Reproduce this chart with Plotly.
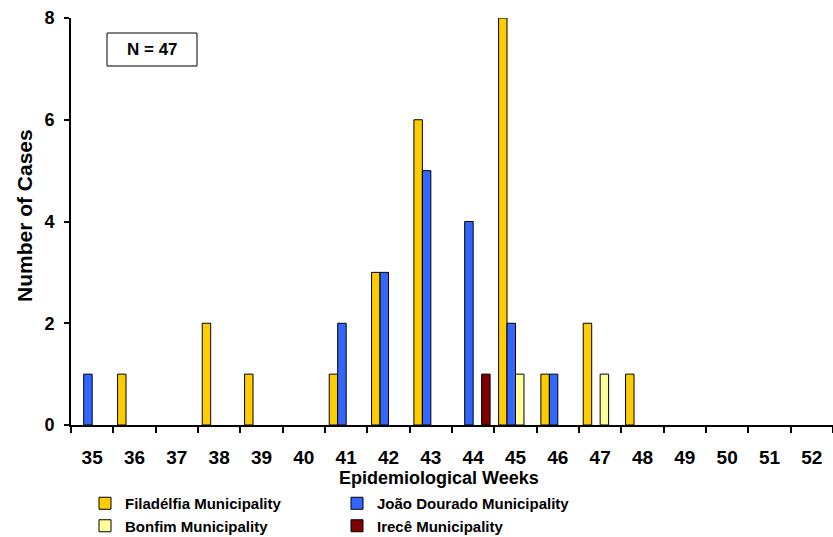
import plotly.graph_objects as go

weeks = [str(w) for w in range(35, 53)]
filadelfia = [0, 1, 0, 2, 1, 0, 1, 3, 6, 0, 8, 1, 2, 1, 0, 0, 0, 0]
joao_dourado = [1, 0, 0, 0, 0, 0, 2, 3, 5, 4, 2, 1, 0, 0, 0, 0, 0, 0]
bonfim = [0, 0, 0, 0, 0, 0, 0, 0, 0, 0, 1, 0, 1, 0, 0, 0, 0, 0]
irece = [0, 0, 0, 0, 0, 0, 0, 0, 0, 1, 0, 0, 0, 0, 0, 0, 0, 0]

series = [
    ("Filadélfia Municipality", filadelfia, "#FFCC00", "legend"),
    ("João Dourado Municipality", joao_dourado, "#3366FF", "legend2"),
    ("Bonfim Municipality", bonfim, "#FFFF99", "legend"),
    ("Irecê Municipality", irece, "#800000", "legend2"),
]

FONT = "Liberation Sans, Arial, sans-serif"
fig = go.Figure()
for name, vals, color, leg in series:
    fig.add_trace(go.Bar(
        x=weeks, y=[v if v else None for v in vals], name=name,
        marker=dict(color=color, line=dict(color="black", width=1)),
        legend=leg,
    ))

W, H = 833, 537
L, R, T, B = 71, 0, 18, 112
pw, ph = W - L - R, H - T - B

def px(x):
    return (x - L) / pw

def py(y):
    return (H - B - y) / ph

legfont = dict(size=15, weight="bold", family=FONT, color="black")
fig.update_layout(
    width=W, height=H,
    margin=dict(l=L, r=R, t=T, b=B, autoexpand=False),
    plot_bgcolor="white", paper_bgcolor="white",
    barmode="group", bargap=0.2, bargroupgap=0,
    font=dict(family=FONT, color="black"),
    legend=dict(x=px(85), y=py(487), xanchor="left", yanchor="top",
                orientation="v", font=legfont,
                bgcolor="rgba(0,0,0,0)", tracegroupgap=0, itemwidth=30),
    legend2=dict(x=px(337), y=py(487), xanchor="left", yanchor="top",
                 orientation="v", font=legfont,
                 bgcolor="rgba(0,0,0,0)", tracegroupgap=0, itemwidth=30),
    xaxis=dict(
        type="category", showline=True, linecolor="black", linewidth=2,
        ticks="outside", tickson="boundaries", ticklen=6, tickwidth=2, tickcolor="black",
        tickfont=dict(size=19, weight="bold", family=FONT), ticklabelstandoff=14,
        showgrid=False, zeroline=False, fixedrange=True, automargin=False,
    ),
    yaxis=dict(
        range=[0, 8], tickvals=[0, 2, 4, 6, 8], showline=True, linecolor="black", linewidth=2,
        ticks="outside", ticklen=5, tickwidth=2, tickcolor="black",
        tickfont=dict(size=18, weight="bold", family=FONT), ticklabelstandoff=6,
        showgrid=False, zeroline=False, fixedrange=True, automargin=False,
    ),
    showlegend=True,
)

fig.add_annotation(text="<b>Epidemiological Weeks</b>", xref="paper", yref="paper",
                   x=px(439), y=py(478), xanchor="center", yanchor="middle",
                   showarrow=False, font=dict(size=18, family=FONT))
fig.add_annotation(text="<b>Number of Cases</b>", xref="paper", yref="paper",
                   x=px(24), y=py(216), xanchor="center", yanchor="middle",
                   textangle=-90, showarrow=False, font=dict(size=21, family=FONT))
fig.add_shape(type="rect", xref="paper", yref="paper",
              x0=px(107), x1=px(197), y0=py(66), y1=py(33),
              line=dict(color="black", width=1), fillcolor="white")
fig.add_annotation(text="<b>N = 47</b>", xref="paper", yref="paper",
                   x=px(152), y=py(49.5), xanchor="center", yanchor="middle",
                   showarrow=False, font=dict(size=17, family=FONT))

fig.write_html("out.html", config={"displayModeBar": False},
               post_script="document.body.style.margin='0';")
